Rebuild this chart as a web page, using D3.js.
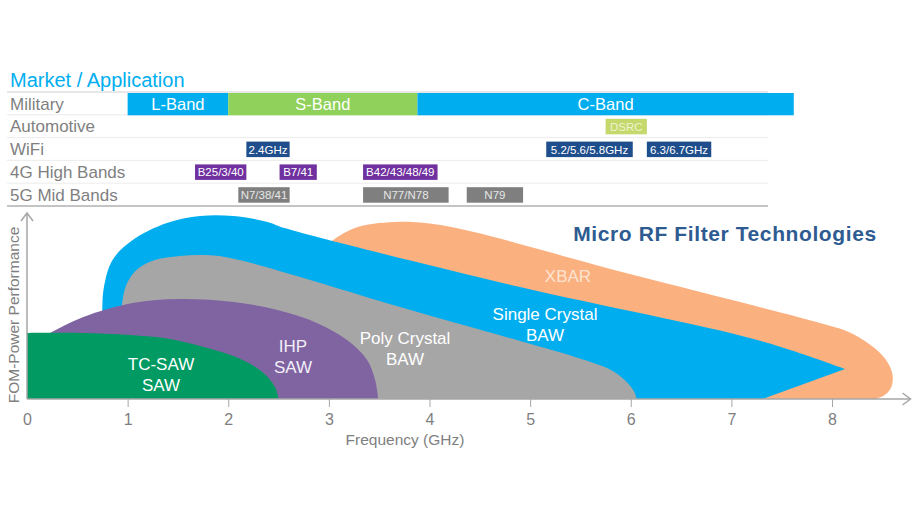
<!DOCTYPE html>
<html lang="en">
<head>
<meta charset="UTF-8">
<title>Micro RF Filter Technologies</title>
<script src="https://d3js.org/d3.v7.min.js"></script>
<style>
  body { margin: 0; background: #fff; }
  text { font-family: "Liberation Sans", Arial, sans-serif; }
</style>
</head>
<body>
<div id="chart"></div>
<script>
const width = 917;
const height = 519;

// market / application table
const rows = ["Military", "Automotive", "WiFi", "4G High Bands", "5G Mid Bands"];
const militaryBands = [
  { label: "L-Band", from: 1, to: 2 },
  { label: "S-Band", from: 2, to: 3.88 },
  { label: "C-Band", from: 3.88, to: 7.62 }
];
const automotiveBands = [{ label: "DSRC", from: 5.75, to: 6.16 }];
const wifiBands = [
  { label: "2.4GHz", from: 2.18, to: 2.61 },
  { label: "5.2/5.6/5.8GHz", from: 5.16, to: 6.02 },
  { label: "6.3/6.7GHz", from: 6.16, to: 6.80 }
];
const lteBands = [
  { label: "B25/3/40", from: 1.67, to: 2.18 },
  { label: "B7/41", from: 2.51, to: 2.88 },
  { label: "B42/43/48/49", from: 3.34, to: 4.08 }
];
const nrBands = [
  { label: "N7/38/41", from: 2.10, to: 2.61 },
  { label: "N77/N78", from: 3.34, to: 4.19 },
  { label: "N79", from: 4.37, to: 4.93 }
];

// technology outlines: [GHz, performance 0..100]
const tcSaw = [[0, 35.5], [0.53, 35.5], [1.02, 34.4], [1.42, 32.3], [1.72, 28.5], [2.05, 23.1],
  [2.27, 17.2], [2.40, 11.3], [2.47, 5.9], [2.5, 0]];
const ihpSaw = [[0.18, 33.9], [0.23, 35.5], [0.56, 44.1], [1.05, 51.6], [1.52, 53.8], [2.05, 52.2],
  [2.49, 47.8], [2.88, 40.9], [3.18, 31.7], [3.38, 21], [3.46, 10.2], [3.49, 0]];
const polyBaw = [[0.93, 37.1], [0.95, 53.2], [1.0, 62.9], [1.10, 69.9], [1.27, 74.7], [1.52, 76.9],
  [1.77, 77.4], [2.02, 75.8], [3.81, 47.8], [5.6, 19.9], [5.82, 15.1], [5.95, 9.7], [6.03, 4.3], [6.06, 0]];
const singleBaw = [[0.75, 42.5], [0.76, 58.6], [0.85, 74.7], [1.05, 85.5], [1.39, 94.6], [1.72, 98.4],
  [2.05, 98.4], [2.39, 95.2], [2.56, 91.9], [4.9, 60.2], [7.26, 31.7], [8.13, 16.1]];
const singleBawTail = [[7.31, 0]];
const xbar = [[2.95, 82], [3.25, 91.8], [3.65, 95.2], [4.11, 93.5], [5.99, 67.2],
  [7.88, 40.9], [8.16, 36.2], [8.38, 29.2], [8.53, 21.5], [8.60, 13.5], [8.59, 6.5], [8.52, 2], [8.43, 0]];

const freqTicks = [0, 1, 2, 3, 4, 5, 6, 7, 8];

const font = "'Liberation Sans', Arial, sans-serif";

const svg = d3.select("#chart").append("svg")
  .attr("width", width)
  .attr("height", height);

const x = d3.scaleLinear().domain([0, 8]).range([27, 832]);
const y = d3.scaleLinear().domain([0, 100]).range([399, 213]);
const row = d3.scaleBand().domain(rows).range([92, 206]);

// ---- table ----
svg.append("text")
  .attr("x", 10).attr("y", 87)
  .attr("fill", "#00aeef")
  .style("font-size", "20px")
  .text("Market / Application");

rows.forEach(function (r, i) {
  svg.append("line")
    .attr("x1", 7).attr("x2", 768)
    .attr("y1", row(r)).attr("y2", row(r))
    .attr("stroke", i === 0 ? "#d0d0d0" : "#ececec")
    .attr("stroke-width", 1);
  svg.append("text")
    .attr("x", 10).attr("y", row(r) + 17.5)
    .attr("fill", "#7f7f7f")
    .style("font-size", "17px")
    .text(r);
});
svg.append("line")
  .attr("x1", 7).attr("x2", 768)
  .attr("y1", 206).attr("y2", 206)
  .attr("stroke", "#c4c4c4")
  .attr("stroke-width", 2);

const bandColor = { "L-Band": "#00aeef", "S-Band": "#8fd15a", "C-Band": "#00aeef" };
const mil = svg.append("g");
mil.selectAll("rect").data(militaryBands).enter().append("rect")
  .attr("x", d => x(d.from))
  .attr("width", d => x(d.to) - x(d.from))
  .attr("y", row("Military") + 1)
  .attr("height", row.bandwidth() - 0.5)
  .attr("fill", d => bandColor[d.label]);
mil.selectAll("text").data(militaryBands).enter().append("text")
  .attr("x", d => (x(d.from) + x(d.to)) / 2)
  .attr("y", row("Military") + 17.5)
  .attr("text-anchor", "middle")
  .attr("fill", "#fff")
  .style("font-size", "16.5px")
  .text(d => d.label);

const boxRows = [
  { key: "Automotive", data: automotiveBands, fill: "#c4d86c", ink: "#eef3cf" },
  { key: "WiFi", data: wifiBands, fill: "#1f4e8c", ink: "#fff" },
  { key: "4G High Bands", data: lteBands, fill: "#7030a0", ink: "#fff" },
  { key: "5G Mid Bands", data: nrBands, fill: "#7f7f7f", ink: "#e6e6e6" }
];
boxRows.forEach(function (br) {
  const g = svg.append("g");
  const top = row(br.key) + 4;
  g.selectAll("rect").data(br.data).enter().append("rect")
    .attr("x", d => x(d.from))
    .attr("width", d => x(d.to) - x(d.from))
    .attr("y", top)
    .attr("height", 15.5)
    .attr("fill", br.fill);
  g.selectAll("text").data(br.data).enter().append("text")
    .attr("x", d => (x(d.from) + x(d.to)) / 2)
    .attr("y", top + 12)
    .attr("text-anchor", "middle")
    .attr("fill", br.ink)
    .style("font-size", "11.5px")
    .text(d => d.label);
});

// ---- shapes ----
const line = d3.line()
  .x(d => x(d[0]))
  .y(d => y(d[1]))
  .curve(d3.curveCatmullRom.alpha(0.5));

function outline(pts, tail) {
  let d = line(pts);
  (tail || []).forEach(function (p) { d += "L" + x(p[0]) + "," + y(p[1]); });
  d += "L" + x(pts[0][0]) + "," + y(0) + "Z";
  return d;
}

const shapes = [
  { pts: xbar, fill: "#fbb07f" },
  { pts: singleBaw, tail: singleBawTail, fill: "#00aeef" },
  { pts: polyBaw, fill: "#a6a6a6" },
  { pts: ihpSaw, fill: "#8064a2" },
  { pts: tcSaw, fill: "#009a62" }
];
svg.append("g").selectAll("path").data(shapes).enter().append("path")
  .attr("d", d => outline(d.pts, d.tail))
  .attr("fill", d => d.fill);

// shape labels
const labels = [
  { lines: ["TC-SAW", "SAW"], at: [161, 370], color: "#fff" },
  { lines: ["IHP", "SAW"], at: [293, 352], color: "#f2eef7" },
  { lines: ["Poly Crystal", "BAW"], at: [405, 344], color: "#fff" },
  { lines: ["Single Crystal", "BAW"], at: [545, 320], color: "#fff" },
  { lines: ["XBAR"], at: [568, 282], color: "#fde4d2" }
];
labels.forEach(function (l) {
  const t = svg.append("text")
    .attr("text-anchor", "middle")
    .attr("fill", l.color)
    .style("font-size", "17px");
  l.lines.forEach(function (s, i) {
    t.append("tspan").attr("x", l.at[0]).attr("y", l.at[1] + i * 20.5).text(s);
  });
});

svg.append("text")
  .attr("x", 725).attr("y", 241)
  .attr("text-anchor", "middle")
  .attr("fill", "#2e5b91")
  .style("font-size", "21px")
  .style("font-weight", "bold")
  .style("letter-spacing", "0.6px")
  .text("Micro RF Filter Technologies");

// ---- axes ----
const axisColor = "#a6a6a6";
const xAxis = svg.append("g")
  .attr("transform", "translate(0," + y(0) + ")")
  .call(d3.axisBottom(x).tickValues(freqTicks).tickSize(8).tickPadding(7).tickFormat(d3.format("d")));
xAxis.select(".domain").remove();
xAxis.selectAll(".tick line").attr("stroke", axisColor);
xAxis.selectAll(".tick text")
  .attr("fill", "#7f7f7f")
  .style("font-size", "16px")
  .style("font-family", font);
xAxis.select(".tick line").remove();

const axEndX = x(8.78);
svg.append("line")
  .attr("x1", x(0)).attr("x2", axEndX)
  .attr("y1", y(0)).attr("y2", y(0))
  .attr("stroke", axisColor).attr("stroke-width", 1.5);
svg.append("polyline")
  .attr("points", [[axEndX - 8, y(0) - 6], [axEndX, y(0)], [axEndX - 8, y(0) + 6]].join(" "))
  .attr("fill", "none").attr("stroke", axisColor).attr("stroke-width", 1.5);
svg.append("line")
  .attr("x1", x(0)).attr("x2", x(0))
  .attr("y1", y(0)).attr("y2", y(100))
  .attr("stroke", axisColor).attr("stroke-width", 1.5);
svg.append("polyline")
  .attr("points", [[x(0) - 6, y(100) + 8], [x(0), y(100)], [x(0) + 6, y(100) + 8]].join(" "))
  .attr("fill", "none").attr("stroke", axisColor).attr("stroke-width", 1.5);

svg.append("text")
  .attr("x", 405).attr("y", 445)
  .attr("text-anchor", "middle")
  .attr("fill", "#7f7f7f")
  .style("font-size", "15.5px")
  .text("Frequency (GHz)");

svg.append("text")
  .attr("transform", "translate(19,315) rotate(-90)")
  .attr("text-anchor", "middle")
  .attr("fill", "#7f7f7f")
  .style("font-size", "15.5px")
  .text("FOM-Power Performance");
</script>
</body>
</html>
